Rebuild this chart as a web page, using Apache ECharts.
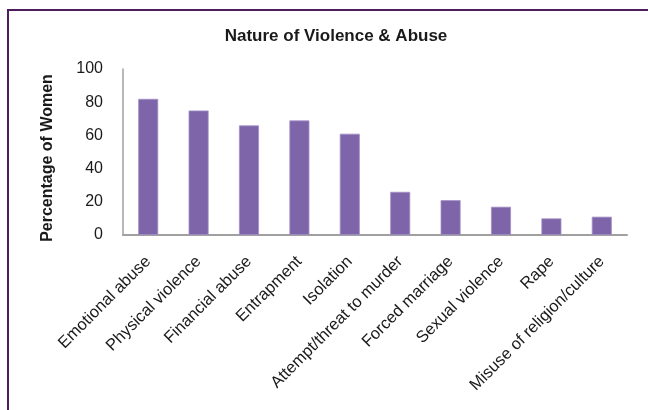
<!DOCTYPE html>
<html>
<head>
<meta charset="utf-8">
<script src="https://cdn.jsdelivr.net/npm/echarts@6/dist/echarts.min.js"></script>
<style>
  html, body { margin: 0; padding: 0; background: #fff; }
  #chart { width: 648px; height: 410px; }
</style>
</head>
<body>
<div id="chart"></div>
<script>
// Forms of violence and abuse reported, as a percentage of women
const categories = [
  'Emotional abuse', 'Physical violence', 'Financial abuse', 'Entrapment', 'Isolation',
  'Attempt/threat to murder', 'Forced marriage', 'Sexual violence', 'Rape', 'Misuse of religion/culture'
];
const percentages = [82, 75, 66, 69, 61, 26, 21, 17, 10, 11];
const yTicks = [0, 20, 40, 60, 80, 100];

const chart = echarts.init(document.getElementById('chart'), null, { renderer: 'canvas' });

chart.setOption({
  backgroundColor: '#ffffff',
  animation: false,
  graphic: [{
    type: 'rect',
    shape: { x: 8, y: 10, width: 700, height: 450 },
    style: { fill: 'none', stroke: '#4e1d5e', lineWidth: 2 },
    silent: true,
    z: -1
  }],
  title: {
    text: 'Nature of Violence & Abuse',
    left: 331,
    top: 23,
    textAlign: 'center',
    textStyle: {
      fontFamily: '"Liberation Sans", Arial, sans-serif',
      fontWeight: 'bold',
      fontSize: 17,
      color: '#1a1a1a'
    }
  },
  grid: { left: 123, right: 21, top: 69, bottom: 175, containLabel: false },
  xAxis: {
    type: 'category',
    data: categories,
    axisLine: { lineStyle: { color: '#a0a0a0', width: 2 } },
    axisTick: { show: false },
    axisLabel: {
      interval: 0,
      rotate: 45,
      margin: 24,
      fontFamily: '"Liberation Sans", Arial, sans-serif',
      fontSize: 16.5,
      color: '#1a1a1a'
    }
  },
  yAxis: {
    type: 'value',
    min: yTicks[0],
    max: yTicks[yTicks.length - 1],
    interval: 20,
    name: 'Percentage of Women',
    nameLocation: 'middle',
    nameGap: 67,
    nameTextStyle: {
      fontFamily: '"Liberation Sans", Arial, sans-serif',
      fontWeight: 'bold',
      fontSize: 16,
      color: '#1a1a1a',
      padding: [0, 12, 0, 0]
    },
    axisLine: { show: true, lineStyle: { color: '#a0a0a0', width: 1.5 } },
    axisTick: { show: false },
    splitLine: { show: false },
    axisLabel: {
      margin: 20,
      padding: [6, 0, 0, 0],
      fontFamily: '"Liberation Sans", Arial, sans-serif',
      fontSize: 16,
      color: '#1a1a1a'
    }
  },
  series: [{
    type: 'bar',
    data: percentages,
    barWidth: 20,
    itemStyle: { color: '#7e65a9', borderColor: '#a390c6', borderWidth: 0.8 }
  }]
});
</script>
</body>
</html>
